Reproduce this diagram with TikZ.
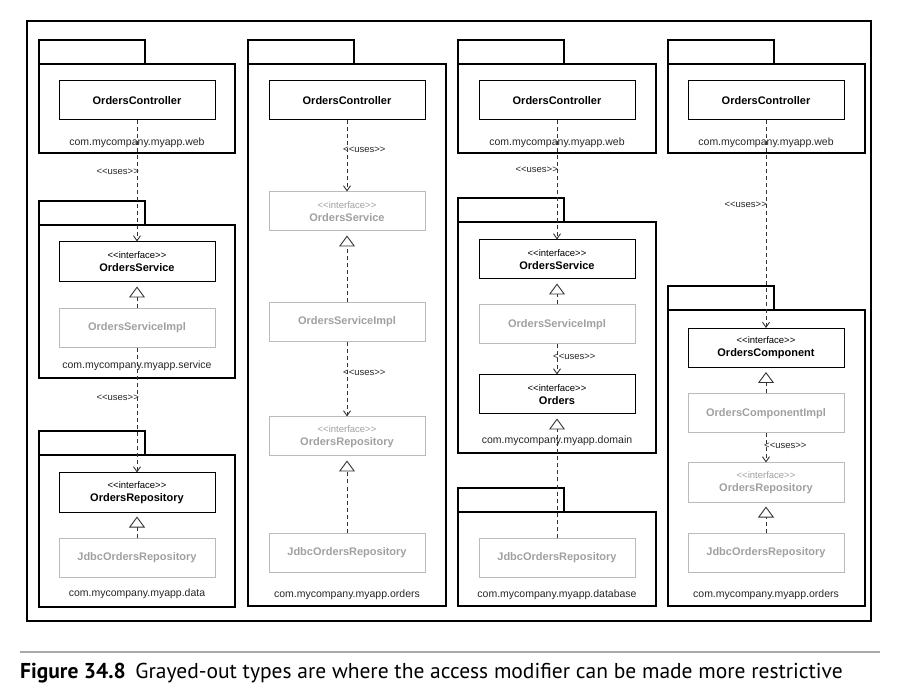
\documentclass[tikz,border=0pt]{standalone}
\usepackage{fontspec}
\usetikzlibrary{arrows.meta}
\newfontfamily\diag{Liberation Sans}
\newfontfamily\capfont{PT Sans}
\definecolor{gtext}{HTML}{A0A0A0}
\definecolor{gline}{HTML}{BBBBBB}
\definecolor{rulegray}{HTML}{A8A8A8}
\definecolor{lnk}{HTML}{333333}
\newcommand\stlt{<\kern0pt<}
\newcommand\stgt{>\kern0pt>}
\newcommand\iface[1]{{\fontsize{9.5}{13}\mdseries\stlt interface\stgt}\\#1}
\newcommand\usetxt{\stlt uses\stgt}
\tikzset{
  cls/.style={draw=black, line width=1pt, minimum width=156, minimum height=39, inner sep=0,
    font=\diag\bfseries\fontsize{11}{13}\selectfont, align=center},
  gcls/.style={cls, draw=gline, text=gtext},
  pkgline/.style={draw=black, line width=1.8pt},
  pkglabel/.style={inner sep=0, font=\diag\fontsize{10.5}{13}\selectfont, text=black!85},
  uses/.style={inner sep=0, font=\diag\fontsize{9.5}{11}\selectfont, text=black!85},
  dashpat/.style={draw=lnk, line width=0.9pt, dash pattern=on 4pt off 3pt},
  dep/.style={dashpat, -{Straight Barb[length=5pt,width=7pt,line width=0.9pt]}},
  real/.style={dashpat, -{Triangle[open,length=11pt,width=16pt,line width=0.9pt]}, shorten >=4pt}
}
\newcommand\pkg[4]{\draw[pkgline] (#1,#3) rectangle ++(106,24); \draw[pkgline] (#1,#3+24) rectangle (#2,#4);}
\begin{document}
\begin{tikzpicture}[x=1pt,y=-1pt]
\useasboundingbox (0,0) rectangle (900,700);
% frame
\draw[line width=1.5pt] (27,21) rectangle (871,621);
% packages
\pkg{39}{235}{40}{153}
\pkg{39}{235}{201}{378}
\pkg{39}{235}{431}{607}
\pkg{248}{446}{40}{606}
\pkg{458}{656}{40}{153}
\pkg{458}{656}{198}{453}
\pkg{458}{656}{488}{606}
\pkg{668}{865}{40}{153}
\pkg{668}{865}{286}{606}
% package labels
\node[pkglabel] (p1a) at (137,143) {com.mycompany.myapp.web};
\node[pkglabel] (p1b) at (137,366) {com.mycompany.myapp.service};
\node[pkglabel] (p1c) at (137,594) {com.mycompany.myapp.data};
\node[pkglabel] (p2a) at (347,595) {com.mycompany.myapp.orders};
\node[pkglabel] (p3a) at (557,143) {com.mycompany.myapp.web};
\node[pkglabel] (p3b) at (557,441) {com.mycompany.myapp.domain};
\node[pkglabel] (p3c) at (557,595) {com.mycompany.myapp.database};
\node[pkglabel] (p4a) at (766,143) {com.mycompany.myapp.web};
\node[pkglabel] (p4b) at (766,595) {com.mycompany.myapp.orders};
% column 1
\node[cls]  (c1a) at (137,100.5) {OrdersController};
\node[cls, minimum height=40]  (c1b) at (137,262) {\iface{OrdersService}};
\node[gcls] (c1c) at (137,328) {OrdersServiceImpl};
\node[cls]  (c1d) at (137,492.5) {\iface{OrdersRepository}};
\node[gcls] (c1e) at (137,557.5) {JdbcOrdersRepository};
% column 2
\node[cls]  (c2a) at (347,100.5) {OrdersController};
\node[gcls] (c2b) at (347,211.5) {\iface{OrdersService}};
\node[gcls] (c2c) at (347,322) {OrdersServiceImpl};
\node[gcls] (c2d) at (347,436.5) {\iface{OrdersRepository}};
\node[gcls] (c2e) at (347,552.5) {JdbcOrdersRepository};
% column 3
\node[cls]  (c3a) at (557,100.5) {OrdersController};
\node[cls]  (c3b) at (557,259.5) {\iface{OrdersService}};
\node[gcls] (c3c) at (557,324.5) {OrdersServiceImpl};
\node[cls]  (c3d) at (557,394.5) {\iface{Orders}};
\node[gcls] (c3e) at (557,557.5) {JdbcOrdersRepository};
% column 4
\node[cls]  (c4a) at (766,100.5) {OrdersController};
\node[cls]  (c4b) at (766,348) {\iface{OrdersComponent}};
\node[gcls] (c4c) at (766,413.5) {OrdersComponentImpl};
\node[gcls] (c4d) at (766,482.5) {\iface{OrdersRepository}};
\node[gcls] (c4e) at (766,552.5) {JdbcOrdersRepository};
% uses labels
\node[uses, anchor=east] (u1a) at (139,172) {\usetxt};
\node[uses, anchor=east] (u1b) at (139,398) {\usetxt};
\node[uses, anchor=west] (u2a) at (343,150) {\usetxt};
\node[uses, anchor=west] (u2b) at (343,373) {\usetxt};
\node[uses, anchor=east] (u3a) at (558,170) {\usetxt};
\node[uses, anchor=west] (u3b) at (553,357) {\usetxt};
\node[uses, anchor=east] (u4a) at (767,205) {\usetxt};
\node[uses, anchor=west] (u4b) at (764,446) {\usetxt};
% connectors
\draw[dep]  (c1a.south) -- (c1b.north);
\draw[real] (c1c.north) -- (c1b.south);
\draw[dep]  (c1c.south) -- (c1d.north);
\draw[real] (c1e.north) -- (c1d.south);
\draw[dep]  (c2a.south) -- (c2b.north);
\draw[real] (c2c.north) -- (c2b.south);
\draw[dep]  (c2c.south) -- (c2d.north);
\draw[real] (c2e.north) -- (c2d.south);
\draw[dep]  (c3a.south) -- (c3b.north);
\draw[real] (c3c.north) -- (c3b.south);
\draw[dep]  (c3c.south) -- (c3d.north);
\draw[real] (c3e.north) -- (c3d.south);
\draw[dep]  (c4a.south) -- (c4b.north);
\draw[real] (c4c.north) -- (c4b.south);
\draw[dep]  (c4c.south) -- (c4d.north);
\draw[real] (c4e.north) -- (c4d.south);
% caption
\draw[rulegray, line width=2pt] (20,652) -- (880,652);
\node[anchor=base west, inner sep=0, font=\capfont\fontsize{21.5}{24}\selectfont] (cap) at (20,678)
  {\textbf{Figure 34.8}\hspace{0.45em}Grayed-out types are where the access modifier can be made more restrictive};
\end{tikzpicture}
\end{document}
